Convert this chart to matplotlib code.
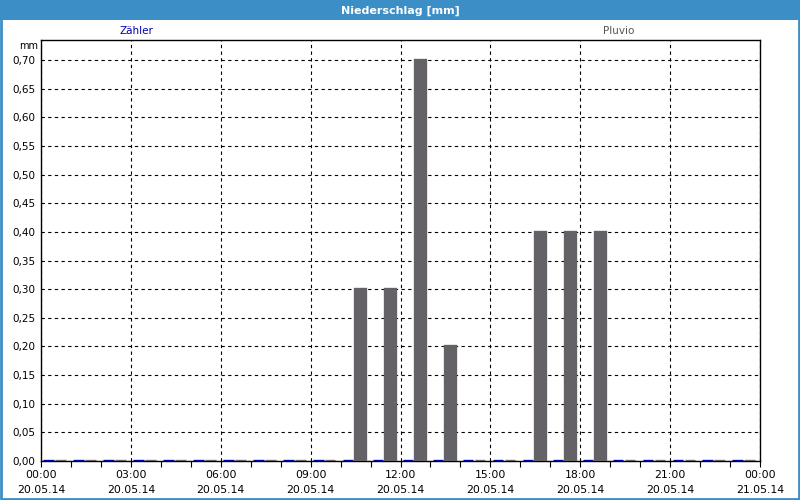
import matplotlib
matplotlib.use("Agg")
import matplotlib.pyplot as plt
from matplotlib.patches import Rectangle
import numpy as np

hours = list(range(24))
zaehler = [0.0] * 24
pluvio = [0.0, 0.0, 0.0, 0.0, 0.0, 0.0, 0.0, 0.0, 0.0, 0.0,
          0.30, 0.30, 0.70, 0.20, 0.0, 0.0, 0.40, 0.40, 0.40,
          0.0, 0.0, 0.0, 0.0, 0.0]
major_labels = ["00:00\n20.05.14", "03:00\n20.05.14", "06:00\n20.05.14",
                "09:00\n20.05.14", "12:00\n20.05.14", "15:00\n20.05.14",
                "18:00\n20.05.14", "21:00\n20.05.14", "00:00\n21.05.14"]
y_ticks = [i * 0.05 for i in range(15)]

blue = "#3c8fc6"
fig = plt.figure(figsize=(8, 5), dpi=100)
fig.patch.set_facecolor("white")

# title bar and border
fig.patches.append(Rectangle((0, 0.96), 1, 0.04, transform=fig.transFigure,
                             facecolor=blue, edgecolor="none", zorder=0))
fig.patches.append(Rectangle((0.001, 0.002), 0.998, 0.996, transform=fig.transFigure,
                             facecolor="none", edgecolor=blue, linewidth=2, zorder=5))
fig.text(0.5, 0.979, "Niederschlag [mm]", color="white", ha="center", va="center",
         fontsize=8, fontweight="bold")

ax = fig.add_axes([0.05125, 0.078, 0.89875, 0.842])
ax.set_facecolor("white")
x = np.array(hours, dtype=float)
w = 0.35
ax.bar(x + 0.08, zaehler, width=w, align="edge", color="#0000a0",
       edgecolor="#0000a0", linewidth=2.4, zorder=3)
ax.bar(x + 0.48, pluvio, width=w, align="edge", color="#646266",
       edgecolor="#646266", linewidth=2.4, zorder=3)

ax.set_xlim(0, 24)
ax.set_ylim(0, 0.735)
ax.set_xticks(range(0, 25, 3))
ax.set_xticklabels(major_labels, fontsize=7.8, linespacing=1.6)
ax.set_xticks(range(0, 25), minor=True)
ax.set_yticks(y_ticks)
ax.set_yticklabels([f"{v:.2f}".replace(".", ",") for v in y_ticks], fontsize=7.5)
ax.tick_params(axis="x", which="minor", direction="out", length=4, width=0.8)
ax.tick_params(axis="x", which="major", length=4, width=0.8, pad=2.5)
ax.tick_params(axis="y", length=0, pad=4)
ax.grid(True, which="major", color="black", linestyle=(0, (3, 3)), linewidth=0.8, zorder=1)
ax.set_axisbelow(True)
for s in ax.spines.values():
    s.set_linewidth(1)
    s.set_color("black")

fig.text(0.0475, 0.908, "mm", ha="right", va="center", fontsize=7)
fig.text(0.171, 0.937, "Zähler", color="#0000b0", ha="center", va="center", fontsize=7.5)
fig.text(0.773, 0.937, "Pluvio", color="#555555", ha="center", va="center", fontsize=7.5)

fig.savefig("out.png", dpi=100)
